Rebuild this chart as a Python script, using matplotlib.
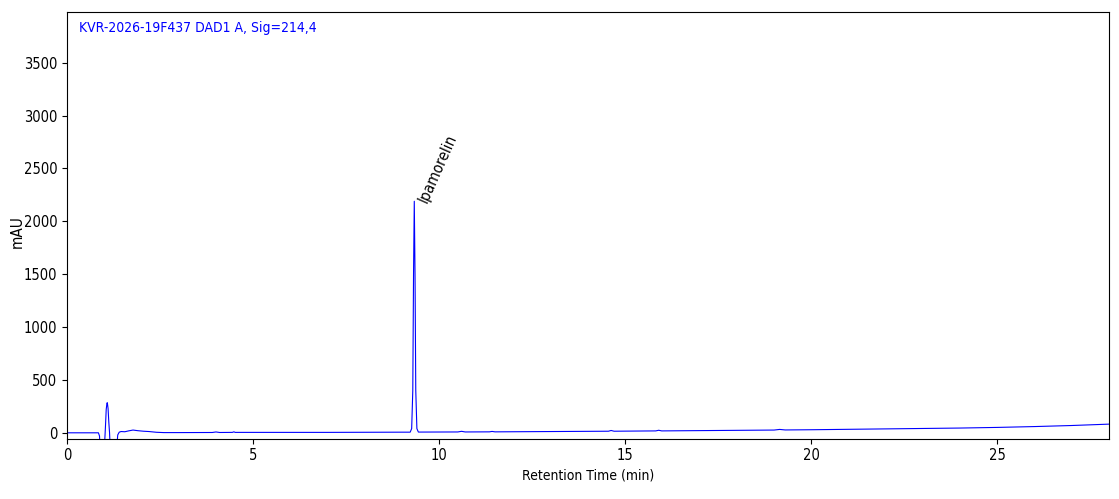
import matplotlib.pyplot as plt
from matplotlib.font_manager import FontProperties

# Chromatogram trace (time in min, signal in mAU)
time_min = [0.00, 0.84, 0.87, 0.90, 0.95, 1.00, 1.03, 1.05, 1.07, 1.08, 1.10, 1.12,
            1.14, 1.17, 1.25, 1.32, 1.36, 1.40, 1.45, 1.55, 1.65, 1.77, 1.90, 2.05,
            2.20, 2.40, 2.60, 3.00, 3.90, 4.00, 4.10, 4.44, 4.48, 4.52, 5.00, 7.00,
            9.00, 9.22, 9.26, 9.29, 9.31, 9.33, 9.35, 9.37, 9.40, 9.44, 9.55, 10.50,
            10.60, 10.70, 11.35, 11.42, 11.50, 14.55, 14.62, 14.70, 15.82, 15.90, 15.98,
            19.00, 19.15, 19.30, 20.00, 22.00, 24.00, 25.00, 26.00, 27.00, 28.00]
signal_mau = [0, 0, -30, -250, -400, -150, 60, 220, 280, 285, 230, 100,
              0, -250, -400, -200, -20, 6, 12, 10, 18, 26, 20, 15,
              12, 5, 2, 2, 3, 8, 3, 4, 9, 4, 4, 4,
              6, 6, 40, 400, 1500, 2190, 1500, 400, 40, 7, 7, 8,
              14, 8, 9, 13, 9, 15, 22, 15, 18, 24, 18,
              26, 32, 27, 29, 37, 45, 51, 59, 69, 82]

peak_name = "Ipamorelin"
peak_time = 9.33
peak_height = 2190
title_text = "KVR-2026-19F437 DAD1 A, Sig=214,4"

cond = FontProperties(family="DejaVu Sans", stretch="condensed", size=10.5)
cond_big = FontProperties(family="DejaVu Sans", stretch="condensed", size=11)
cond_title = FontProperties(family="DejaVu Sans", stretch="condensed", size=10)

fig = plt.figure(figsize=(11.19, 4.99), dpi=100)
ax = fig.add_axes([0.060, 0.121, 0.931, 0.855])

ax.plot(time_min, signal_mau, color="#0000ff", lw=0.8)

ax.set_xlim(0, 28)
ax.set_ylim(-55, 3980)
ax.set_xticks([0, 5, 10, 15, 20, 25])
ax.set_yticks([0, 500, 1000, 1500, 2000, 2500, 3000, 3500])
for lab in ax.get_xticklabels() + ax.get_yticklabels():
    lab.set_fontproperties(cond)

ax.set_xlabel("Retention Time (min)", fontproperties=cond_title, labelpad=4)
ax.set_ylabel("mAU", fontproperties=cond_big)
ax.yaxis.set_label_coords(-0.041, 0.485)

ax.text(0.011, 0.98, title_text, transform=ax.transAxes, color="#0000ff",
        ha="left", va="top", fontproperties=cond_title)

ax.annotate(peak_name, xy=(peak_time, peak_height), xytext=(1, 2),
            textcoords="offset points", rotation=66, rotation_mode="anchor",
            ha="left", va="top", fontproperties=cond_big)

plt.savefig("out.png", dpi=100)
plt.close()
